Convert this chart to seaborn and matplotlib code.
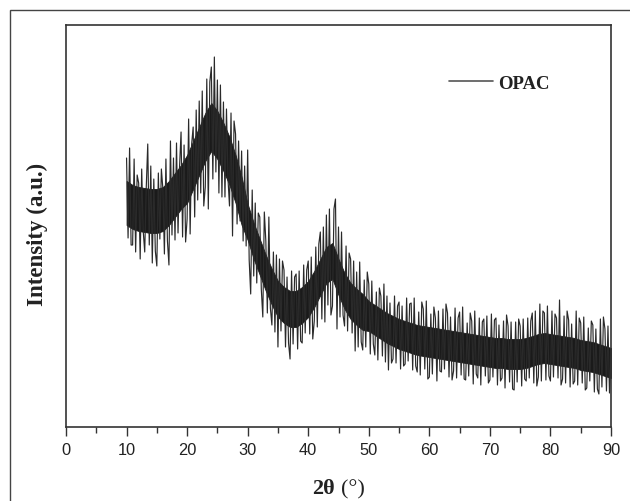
import numpy as np
import pandas as pd
import seaborn as sns
import matplotlib.pyplot as plt
from matplotlib.patches import Rectangle

# XRD pattern of OPAC (a.u., one row per degree, 0.25 deg steps)
intensidade = [
    269, 189, 279, 182,  # 10
    182, 268, 175, 252,  # 11
    244, 168, 258, 196,  # 12
    175, 239, 283, 182,  # 13
    261, 164, 248, 176,  # 14
    161, 254, 188, 258,  # 15
    238, 173, 268, 186,  # 16
    162, 286, 192, 269,  # 17
    187, 284, 194, 260,  # 18
    295, 190, 282, 185,  # 19
    208, 308, 193, 283,  # 20
    300, 210, 317, 227,  # 21
    326, 234, 336, 221,  # 22
    240, 348, 218, 345,  # 23
    360, 248, 370, 255,  # 24
    347, 234, 342, 230,  # 25
    325, 230, 318, 248,  # 26
    221, 314, 191, 306,  # 27
    293, 203, 286, 206,  # 28
    276, 186, 261, 181,  # 29
    277, 167, 133, 237,  # 30
    151, 224, 144, 214,  # 31
    210, 138, 110, 215,  # 32
    186, 114, 210, 119,  # 33
    102, 175, 95, 172,   # 34
    80, 168, 96, 166,    # 35
    157, 80, 150, 84,    # 36
    68, 156, 83, 150,    # 37
    153, 78, 156, 86,    # 38
    84, 162, 94, 157,    # 39
    166, 93, 170, 88,    # 40
    106, 180, 100, 183,  # 41
    195, 108, 200, 105,  # 42
    212, 122, 218, 112,  # 43
    121, 218, 228, 98,   # 44
    200, 110, 195, 112,  # 45
    101, 181, 96, 174,   # 46
    168, 94, 166, 76,    # 47
    155, 80, 165, 85,    # 48
    77, 147, 80, 155,    # 49
    143, 73, 146, 83,    # 50
    72, 135, 67, 139,    # 51
    131, 71, 143, 65,    # 52
    131, 57, 124, 64,    # 53
    68, 131, 64, 121,    # 54
    125, 58, 121, 61,    # 55
    63, 129, 66, 123,    # 56
    124, 57, 129, 61,    # 57
    55, 115, 52, 125,    # 58
    118, 58, 126, 48,    # 59
    50, 113, 53, 120,    # 60
    109, 46, 116, 56,    # 61
    55, 118, 58, 123,    # 62
    114, 50, 110, 47,    # 63
    56, 119, 49, 109,    # 64
    115, 52, 120, 48,    # 65
    47, 104, 51, 114,    # 66
    106, 43, 116, 53,    # 67
    49, 109, 42, 105,    # 68
    108, 51, 111, 44,    # 69
    47, 113, 50, 107,    # 70
    109, 42, 102, 46,    # 71
    49, 106, 39, 112,    # 72
    101, 45, 105, 38,    # 73
    37, 105, 45, 108,    # 74
    101, 41, 108, 48,    # 75
    46, 109, 49, 106,    # 76
    114, 44, 116, 41,    # 77
    50, 123, 46, 116,    # 78
    114, 47, 121, 51,    # 79
    46, 116, 50, 113,    # 80
    109, 49, 127, 42,    # 81
    48, 111, 44, 116,    # 82
    107, 40, 103, 43,    # 83
    46, 116, 42, 109,    # 84
    104, 44, 110, 37,    # 85
    39, 99, 46, 106,     # 86
    102, 35, 98, 38,     # 87
    33, 108, 40, 110,    # 88
    98, 36, 101, 34,     # 89
    70,                  # 90
]

# faixa densa (núcleo preto) do sinal, lida a cada grau de 10 a 90
nucleo_inferior = [
    202, 198, 196, 195, 194, 194, 196, 202, 210, 218,   # 10-19
    224, 238, 252, 266, 276, 268, 256, 242, 224, 202,   # 20-29
    187, 168, 152, 136, 122, 110, 104, 100, 100, 104,   # 30-39
    110, 120, 132, 144, 148, 132, 118, 108, 102, 97,    # 40-49
    96, 92, 88, 84, 81, 78, 76, 74, 72, 71,             # 50-59
    70, 69, 68, 67, 66, 65, 64, 63, 62, 61,             # 60-69
    60, 59, 59, 58, 58, 58, 59, 61, 63, 64,             # 70-79
    63, 62, 61, 60, 59, 57, 56, 55, 53, 51,             # 80-89
    49,                                                 # 90
]
nucleo_superior = [
    246, 242, 240, 239, 238, 238, 240, 246, 254, 262,   # 10-19
    272, 286, 300, 314, 324, 316, 304, 290, 272, 250,   # 20-29
    223, 204, 188, 172, 158, 146, 140, 136, 136, 140,   # 30-39
    146, 156, 168, 180, 184, 168, 154, 144, 138, 133,   # 40-49
    126, 122, 118, 114, 111, 108, 106, 104, 102, 101,   # 50-59
    100, 99, 98, 97, 96, 95, 94, 93, 92, 91,            # 60-69
    90, 89, 89, 88, 88, 88, 89, 91, 93, 94,             # 70-79
    93, 92, 91, 90, 89, 87, 86, 85, 83, 81,             # 80-89
    79,                                                 # 90
]

theta_inicio, theta_fim = 10, 90
dois_theta = np.linspace(theta_inicio, theta_fim, len(intensidade))
graus = np.linspace(theta_inicio, theta_fim, len(nucleo_inferior))

x_ticks = [0, 10, 20, 30, 40, 50, 60, 70, 80, 90]
rotulo_serie = 'OPAC'

base_dados = pd.DataFrame({'2theta': dois_theta, 'Intensidade': intensidade})

sns.set_theme(style='white')
plt.rcParams['font.family'] = ['Liberation Sans', 'DejaVu Sans']

fig = plt.figure(figsize=(6.3, 5.02), dpi=100)
ax = fig.add_axes([66 / 630, 1 - 428 / 502, 545 / 630, 402 / 502])

# núcleo denso do difratograma
ax.fill_between(graus, nucleo_inferior, nucleo_superior, color='#1a1a1a',
                linewidth=0.6, edgecolor='#1a1a1a')

sns.lineplot(data=base_dados, x='2theta', y='Intensidade', ax=ax,
             color='#2a2a2a', linewidth=0.85, sort=False, estimator=None,
             label=rotulo_serie)

ax.set_xlim(0, 90)
ax.set_ylim(0, 402)
ax.set_xticks(x_ticks)
ax.set_xticks(range(5, 90, 10), minor=True)
ax.set_yticks([])
ax.tick_params(axis='x', which='major', direction='out', length=6.5, width=1,
               color='#333333', labelsize=11.8, pad=4, bottom=True,
               labelcolor='#222222')
ax.tick_params(axis='x', which='minor', direction='out', length=4.5, width=1,
               color='#333333', bottom=True)
for s in ax.spines.values():
    s.set_color('#333333')
    s.set_linewidth(1.2)

ax.set_ylabel('Intensity (a.u.)', family='Liberation Serif', fontweight='bold',
              fontsize=16.5, color='#222222')
ax.yaxis.set_label_coords((48 - 66) / 545, (428 - 234.5) / 402)
ax.set_xlabel('')

# rótulo do eixo x: "2θ" em negrito e "(°)" normal
y_base = 1 - 494 / 502
fig.text(335 / 630, y_base, '2θ', ha='right', va='baseline', color='#222222',
         family='Liberation Serif', fontweight='bold', fontsize=16)
fig.text(341 / 630, y_base, '(°)', ha='left', va='baseline', color='#222222',
         family='Liberation Serif', fontsize=16)

leg = ax.legend(loc='center left', bbox_to_anchor=((449 - 66) / 545, (428 - 84) / 402),
                frameon=False, handlelength=2.35, borderpad=0, borderaxespad=0,
                handletextpad=0.27,
                prop={'family': 'Liberation Serif', 'weight': 'bold', 'size': 13.5})
for h in leg.get_lines():
    h.set_color('#555555')
    h.set_linewidth(1.2)
for t in leg.get_texts():
    t.set_color('#222222')

# moldura externa da figura
fig.patches.append(Rectangle((9.5 / 630, -0.05), 1.1, 1 - 11 / 502 + 0.05,
                             transform=fig.transFigure, fill=False,
                             edgecolor='#444444', linewidth=1))

fig.savefig('out.png', dpi=100)
